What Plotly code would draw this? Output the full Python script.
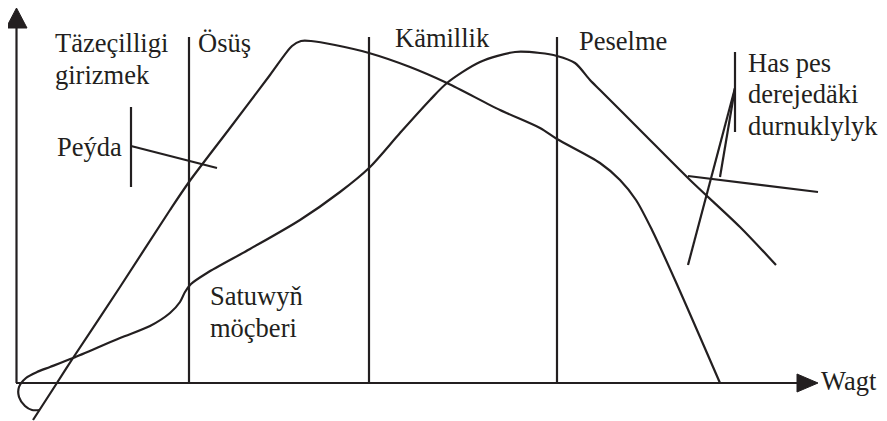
import plotly.graph_objects as go

# Diagram drawn in a pixel-like coordinate system (x right, y down)
INK = "#231f20"
FONT = "Liberation Serif"
PAGE_MARGIN = 8  # the browser puts the figure 8px in from the page corner

# curve rising steeply from below the origin, sharp peak in the growth stage
curve_a_x = [33, 55, 73, 120, 170, 189, 230, 270, 292, 301, 311, 335, 369, 410, 447, 500,
             540, 557, 600, 620, 636, 652, 675, 720]
curve_a_y = [420, 386, 358, 287, 210, 182, 128, 75, 46, 41, 41, 45, 53, 67, 83, 110,
             128, 139, 163, 180, 200, 230, 280, 383]

# sales curve with the loop at the origin and the plateau in maturity
curve_b_x = [40, 32, 25, 19, 19, 26, 37, 50, 73, 120, 150, 170, 180, 185, 191, 207, 250,
             300, 340, 369, 400, 430, 447, 480, 515, 540, 557, 575, 590, 600, 640, 690,
             740, 776]
curve_b_y = [410, 410, 406, 397, 387, 378, 372, 367, 358, 338, 326, 313, 302, 292, 284,
             273, 249, 220, 192, 168, 133, 100, 83, 62, 52, 53, 56, 63, 80, 90, 130, 180,
             227, 265]

# stage boundaries
stage_x = [189, 369, 557]
stage_top = 37
base_y = 383

# axes
y_axis_x = [16.5, 16.5]
y_axis_y = [base_y, 26]
x_axis_x = [16, 800]
x_axis_y = [base_y, base_y]
y_head_x = [6, 16.5, 27, 6]
y_head_y = [28, 8, 28, 28]
x_head_x = [797, 818, 797, 797]
x_head_y = [374, 383, 392, 374]

# pointer lines
peyda_tick_x = [131, 131]
peyda_tick_y = [107, 187]
peyda_ptr_x = [131, 217]
peyda_ptr_y = [146, 168]
has_tick_x = [735, 735]
has_tick_y = [52, 132]
has_ptr1_x = [735, 688]
has_ptr1_y = [88, 265]
has_ptr2_x = [735, 720]
has_ptr2_y = [88, 177]
has_bar_x = [688, 818]
has_bar_y = [176, 192]

# text labels: (text, x, y-centre)
labels = [
    ("Täzeçilligi", 53, 43),
    ("girizmek", 53, 75),
    ("Ösüş", 196, 43),
    ("Kämillik", 393, 38),
    ("Peselme", 577, 41),
    ("Peýda", 55, 147),
    ("Satuwyň", 208, 296),
    ("möçberi", 208, 328),
    ("Has pes", 746, 63),
    ("derejedäki", 746, 94),
    ("durnuklylyk", 746, 126),
    ("Wagt", 819, 381),
]

fig = go.Figure()


def add_line(xs, ys, width=2.2, spline=False):
    fig.add_trace(go.Scatter(
        x=xs, y=ys, mode="lines",
        line=dict(color=INK, width=width, shape="spline" if spline else "linear",
                  smoothing=0.8),
        hoverinfo="skip", showlegend=False, cliponaxis=False,
    ))


add_line(curve_a_x, curve_a_y, spline=True)
add_line(curve_b_x, curve_b_y, spline=True)

for sx in stage_x:
    add_line([sx, sx], [stage_top, base_y])

add_line(y_axis_x, y_axis_y)
add_line(x_axis_x, x_axis_y)
for hx, hy in [(y_head_x, y_head_y), (x_head_x, x_head_y)]:
    fig.add_trace(go.Scatter(
        x=hx, y=hy, mode="lines", fill="toself", fillcolor=INK,
        line=dict(color=INK, width=1), hoverinfo="skip", showlegend=False,
    ))

for xs, ys in [(peyda_tick_x, peyda_tick_y), (peyda_ptr_x, peyda_ptr_y),
               (has_tick_x, has_tick_y), (has_ptr1_x, has_ptr1_y),
               (has_ptr2_x, has_ptr2_y), (has_bar_x, has_bar_y)]:
    add_line(xs, ys)

for text, tx, ty in labels:
    fig.add_annotation(
        x=tx, y=ty, text=text, showarrow=False,
        xanchor="left", yanchor="middle",
        font=dict(family=FONT, size=26.5, color=INK),
    )

fig.update_xaxes(range=[PAGE_MARGIN, 887], visible=False, fixedrange=True)
fig.update_yaxes(range=[421, PAGE_MARGIN], visible=False, fixedrange=True)
fig.update_layout(
    width=887 - PAGE_MARGIN,
    height=421 - PAGE_MARGIN,
    margin=dict(t=0, b=0, l=0, r=0),
    paper_bgcolor="white",
    plot_bgcolor="white",
    showlegend=False,
)

fig.write_html("out.html")
